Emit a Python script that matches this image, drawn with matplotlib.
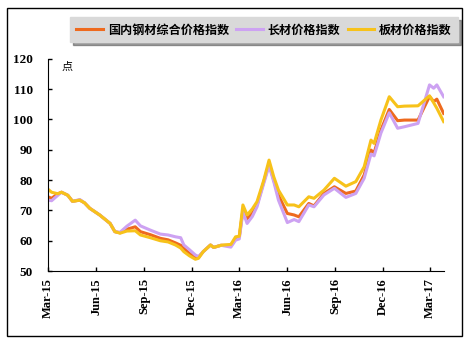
import numpy as np
import pandas as pd
import matplotlib
matplotlib.use('Agg')
import matplotlib.pyplot as plt
from matplotlib.patches import Rectangle

plt.rcParams['font.family'] = ['Liberation Serif', 'Noto Sans CJK SC', 'DejaVu Sans']

# 价格指数 (点), 按日期读取
dates = ['2015-03-01', '2015-03-08', '2015-03-20', '2015-03-27', '2015-04-08',
         '2015-04-17', '2015-05-01', '2015-05-10', '2015-05-20', '2015-06-08',
         '2015-06-28', '2015-07-07', '2015-07-17', '2015-07-30', '2015-08-15',
         '2015-08-25', '2015-09-13', '2015-10-02', '2015-10-17', '2015-10-31',
         '2015-11-10', '2015-11-16', '2015-11-27', '2015-12-08', '2015-12-14',
         '2015-12-23', '2016-01-06', '2016-01-12', '2016-01-26', '2016-02-14',
         '2016-02-23', '2016-03-01', '2016-03-08', '2016-03-16', '2016-03-26',
         '2016-04-04', '2016-04-17', '2016-04-27', '2016-05-06', '2016-05-15',
         '2016-06-01', '2016-06-14', '2016-06-23', '2016-07-12', '2016-07-22',
         '2016-08-10', '2016-08-30', '2016-09-21', '2016-10-10', '2016-10-26',
         '2016-11-08', '2016-11-14', '2016-11-27', '2016-12-13', '2016-12-29',
         '2017-01-11', '2017-02-06', '2017-02-28', '2017-03-08', '2017-03-14',
         '2017-03-27']

composite = [74.5, 74.0, 75.5, 76.0, 75.0, 73.0, 73.4, 72.5, 70.7, 68.5,
             65.7, 63.0, 62.6, 63.8, 64.6, 63.0, 62.0, 60.8, 60.3, 59.3,
             58.5, 57.5, 55.8, 54.5, 54.5, 56.4, 58.6, 57.8, 58.5, 58.5,
             60.8, 61.2, 70.1, 67.3, 69.0, 71.8, 79.5, 85.5, 80.0, 75.0,
             69.0, 68.5, 67.9, 72.3, 71.5, 75.6, 77.8, 75.6, 76.4, 81.7,
             89.9, 89.0, 96.5, 103.3, 99.6, 99.8, 99.8, 107.6, 105.9, 106.7,
             102.0]

long_steel = [73.4, 73.2, 75.0, 76.0, 75.0, 73.0, 73.6, 72.5, 70.7, 68.5,
              65.7, 63.0, 62.8, 64.8, 66.8, 64.9, 63.5, 62.2, 61.9, 61.3,
              61.0, 58.6, 57.0, 55.3, 54.8, 56.4, 58.6, 57.8, 58.5, 57.9,
              60.2, 60.6, 69.5, 65.7, 68.0, 71.2, 79.0, 84.7, 79.5, 73.4,
              66.0, 67.0, 66.3, 71.8, 71.2, 75.1, 77.3, 74.3, 75.6, 80.6,
              88.6, 88.0, 95.5, 102.2, 97.1, 97.6, 98.7, 111.4, 110.3, 111.4,
              107.5]

flat_steel = [77.0, 76.0, 75.5, 76.0, 75.0, 73.0, 73.4, 72.5, 70.7, 68.5,
              65.7, 63.0, 62.5, 63.2, 63.3, 61.9, 61.0, 60.0, 59.6, 58.6,
              57.6, 56.4, 55.0, 53.9, 54.2, 56.4, 58.6, 57.8, 58.5, 58.8,
              61.3, 61.5, 71.8, 68.5, 70.5, 72.9, 80.0, 86.6, 81.1, 76.7,
              71.8, 71.8, 71.2, 74.5, 74.0, 76.7, 80.6, 78.0, 79.5, 84.4,
              93.2, 92.1, 99.8, 107.5, 104.2, 104.4, 104.5, 107.8, 105.5, 103.7,
              99.3]

series_names = ['国内钢材综合价格指数', '长材价格指数', '板材价格指数']
series_colors = ['#EE6A1E', '#CDA2F2', '#F7C21A']

tick_dates = ['2015-03-01', '2015-06-01', '2015-09-01', '2015-12-01',
              '2016-03-01', '2016-06-01', '2016-09-01', '2016-12-01', '2017-03-01']
tick_labels = ['Mar-15', 'Jun-15', 'Sep-15', 'Dec-15',
               'Mar-16', 'Jun-16', 'Sep-16', 'Dec-16', 'Mar-17']

x = pd.to_datetime(dates)

fig = plt.figure(figsize=(4.7, 3.44), dpi=100)
ax = fig.add_axes([0.102, 0.212, 0.843, 0.617])

for vals, name, col in zip([composite, long_steel, flat_steel], series_names, series_colors):
    ax.plot(x, vals, color=col, lw=2.2, label=name, solid_joinstyle='round')

ax.set_ylim(50, 120)
ax.set_yticks(np.arange(50, 121, 10))
ax.set_xlim(pd.Timestamp('2015-03-01'), pd.Timestamp('2017-03-28'))
ax.set_xticks(pd.to_datetime(tick_dates))
ax.set_xticklabels(tick_labels, rotation=90, fontweight='bold', fontsize=9)
for lab in ax.get_yticklabels():
    lab.set_fontweight('bold')
    lab.set_fontsize(9.5)
ax.tick_params(axis='both', direction='in', length=3, width=1)
ax.tick_params(axis='y', pad=11)
ax.tick_params(axis='x', pad=5)
ax.spines['top'].set_visible(False)
ax.spines['right'].set_visible(False)
ax.text(0.035, 0.985, '点', transform=ax.transAxes, ha='left', va='top',
        fontsize=8, family=['Noto Sans CJK SC'])

leg = fig.legend(loc='center', bbox_to_anchor=(0.562, 0.913), ncol=3,
                 frameon=True, fancybox=False, shadow=True,
                 facecolor='#D9D9D9', edgecolor='#D9D9D9', framealpha=1,
                 prop={'family': ['Noto Sans CJK SC'], 'weight': 'bold', 'size': 8.7},
                 handlelength=2.2, handletextpad=0.4, columnspacing=0.6,
                 borderpad=0.5)

fig.patches.append(Rectangle((7 / 470, 1 - 336 / 344), 455 / 470, 328 / 344,
                             transform=fig.transFigure, fill=False,
                             edgecolor='black', lw=1))

fig.savefig('out.png', dpi=100)
